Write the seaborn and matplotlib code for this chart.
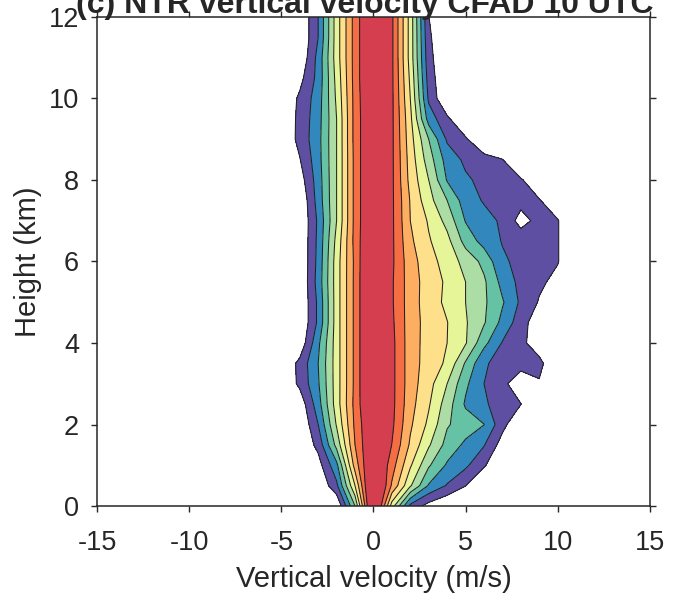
import numpy as np
import pandas as pd
import matplotlib
matplotlib.use("Agg")
import matplotlib.pyplot as plt
import seaborn as sns

# velocity bins (m/s) and height levels (km) of the CFAD grid
velocity = [-5, -4, -3, -2, -1, 0, 1, 2, 3, 4, 5, 6, 7, 8, 9, 10, 11]
height = [0, 0.5, 1, 1.5, 2, 2.5, 3, 3.5, 4, 4.5, 5, 5.5, 6,
          6.5, 7, 7.5, 8, 8.5, 9, 9.5, 10, 10.5, 11, 11.5, 12]

# frequency in contour-level units, one row per height
freq = [
    [0, 0, 0, 0, 4.0, 11.5, 5.5, 1.7, 0.6, 0, 0, 0, 0, 0, 0, 0, 0],
    [0, 0, 0, 1.78, 6.0, 11.4, 7.86, 5.13, 2.9, 1.91, 1.02, 0, 0, 0, 0, 0, 0],
    [0, 0, 0.57, 2.73, 7.43, 10.7, 8.46, 6.13, 4.13, 2.86, 2.2, 1.12, 0, 0, 0, 0, 0],
    [0, 0, 1.31, 4.33, 8.0, 10.44, 8.98, 6.84, 5.13, 3.64, 2.79, 2.07, 0.54, 0, 0, 0, 0],
    [0, 0, 2.0, 5.1, 8.22, 10.4, 9.22, 7.16, 5.78, 4.1, 3.52, 3.02, 1.33, 0, 0, 0, 0],
    [0, 0.33, 2.57, 5.5, 8.33, 10.8, 9.3, 7.36, 6.11, 4.5, 2.86, 2.14, 1.56, 1.02, 0, 0, 0],
    [0, 1.23, 2.88, 5.5, 8.27, 11.0, 9.3, 7.46, 6.36, 5.0, 3.2, 2.0, 1.2, 0.5, 0.9, 0, 0],
    [0, 1.29, 3.0, 5.5, 8.27, 11.0, 9.3, 7.46, 6.56, 5.83, 3.88, 2.14, 1.6, 1.3, 1.3, 0, 0],
    [0, 0.24, 2.78, 5.5, 8.27, 11.0, 9.3, 7.46, 6.59, 6.0, 5.09, 3.29, 1.93, 1.27, 0.4, 0, 0],
    [0, 0, 2.2, 5.5, 8.27, 11.0, 9.2, 7.47, 6.61, 6.03, 5.1, 4.1, 2.71, 1.44, 0.34, 0, 0],
    [0, 0, 2.2, 5.5, 8.27, 11.0, 9.13, 7.47, 6.51, 5.77, 5.0, 4.17, 3.11, 1.82, 0.91, 0, 0],
    [0, 0, 2.4, 5.5, 8.27, 11.0, 9.13, 7.47, 6.55, 5.83, 5.0, 4.17, 2.67, 1.7, 1.2, 0.7, 0],
    [0, 0, 2.3, 5.5, 8.25, 11.0, 9.2, 7.4, 6.42, 5.55, 4.67, 3.71, 2.17, 1.71, 1.39, 1.06, 0],
    [0, 0, 2.25, 5.31, 8.35, 10.67, 9.2, 7.2, 6.1, 5.31, 3.63, 2.62, 1.94, 1.65, 1.35, 1.06, 0],
    [0, 0, 2.18, 5.0, 8.33, 10.57, 9.2, 7.0, 5.89, 4.67, 2.94, 2.35, 1.85, 0.6, 1.35, 1.06, 0],
    [0, 0.05, 2.42, 5.0, 8.33, 10.57, 9.2, 6.93, 5.36, 4.0, 2.47, 1.91, 1.63, 1.34, 1.06, 0.3, 0],
    [0, 0.5, 2.5, 5.0, 8.33, 10.57, 9.2, 6.67, 5.0, 2.92, 2.15, 1.74, 1.42, 1.1, 0.3, 0, 0],
    [0, 0.95, 2.62, 5.0, 8.33, 10.57, 9.2, 6.55, 4.5, 2.56, 1.8, 1.4, 1.02, 0, 0, 0, 0],
    [0, 1.33, 2.67, 5.0, 8.38, 10.45, 9.2, 6.4, 4.0, 1.86, 1.14, 0, 0, 0, 0, 0, 0],
    [0, 1.3, 2.6, 5.0, 8.38, 10.45, 9.2, 6.25, 2.57, 1.2, 0, 0, 0, 0, 0, 0, 0],
    [0, 1.2, 2.5, 5.17, 8.39, 10.57, 9.2, 6.0, 1.82, 0, 0, 0, 0, 0, 0, 0, 0],
    [0, 0.67, 2.33, 5.33, 8.44, 10.68, 9.2, 5.8, 1.54, 0, 0, 0, 0, 0, 0, 0, 0],
    [0, 0.11, 2.33, 5.5, 8.44, 10.68, 9.2, 5.59, 1.33, 0, 0, 0, 0, 0, 0, 0, 0],
    [0, 0, 2.0, 5.5, 8.44, 10.68, 9.2, 5.59, 1.18, 0, 0, 0, 0, 0, 0, 0, 0],
    [0, 0, 2.0, 5.5, 8.44, 10.68, 9.2, 5.59, 1.02, 0, 0, 0, 0, 0, 0, 0, 0],
]

levels = [1, 2, 3, 4, 5, 6, 7, 8, 9, 20]
colors = ['#5e4fa2', '#3288bd', '#66c2a5', '#abdda4', '#e6f598',
          '#fee08b', '#fdae61', '#f46d43', '#d53e4f']
xticks = [-15, -10, -5, 0, 5, 10, 15]
yticks = [0, 2, 4, 6, 8, 10, 12]

sns.set_style("ticks", {"xtick.direction": "out", "ytick.direction": "out",
                        "axes.edgecolor": "#262626"})
plt.rcParams['font.family'] = ['Liberation Sans', 'DejaVu Sans']
plt.rcParams['axes.unicode_minus'] = False

df = pd.DataFrame(freq, index=height, columns=velocity)

fig = plt.figure(figsize=(6.79, 6.06), dpi=100)
ax = fig.add_axes([0.143, 0.165, 0.814, 0.807])

ax.contourf(df.columns, df.index, df.values, levels=levels, colors=colors)
ax.contour(df.columns, df.index, df.values, levels=levels[:-1],
           colors='#222222', linewidths=0.75)

ax.set_xlim(-15, 15)
ax.set_ylim(0, 12)
ax.set_xticks(xticks)
ax.set_yticks(yticks)
ax.tick_params(top=True, right=True, length=4, width=1, labelsize=19.5,
               colors='#262626')
ax.tick_params(axis='x', pad=13)
ax.tick_params(axis='y', pad=9)
for sp in ax.spines.values():
    sp.set_linewidth(1.1)

ax.set_xlabel('Vertical velocity (m/s)', fontsize=21, color='#262626',
              labelpad=7)
ax.set_ylabel('Height (km)', fontsize=21, color='#262626', labelpad=5)
ax.set_title('(c) NTR vertical velocity CFAD 10 UTC', fontsize=23,
             fontweight='bold', pad=2.5, x=0.485)

fig.savefig('out.png', dpi=100)
